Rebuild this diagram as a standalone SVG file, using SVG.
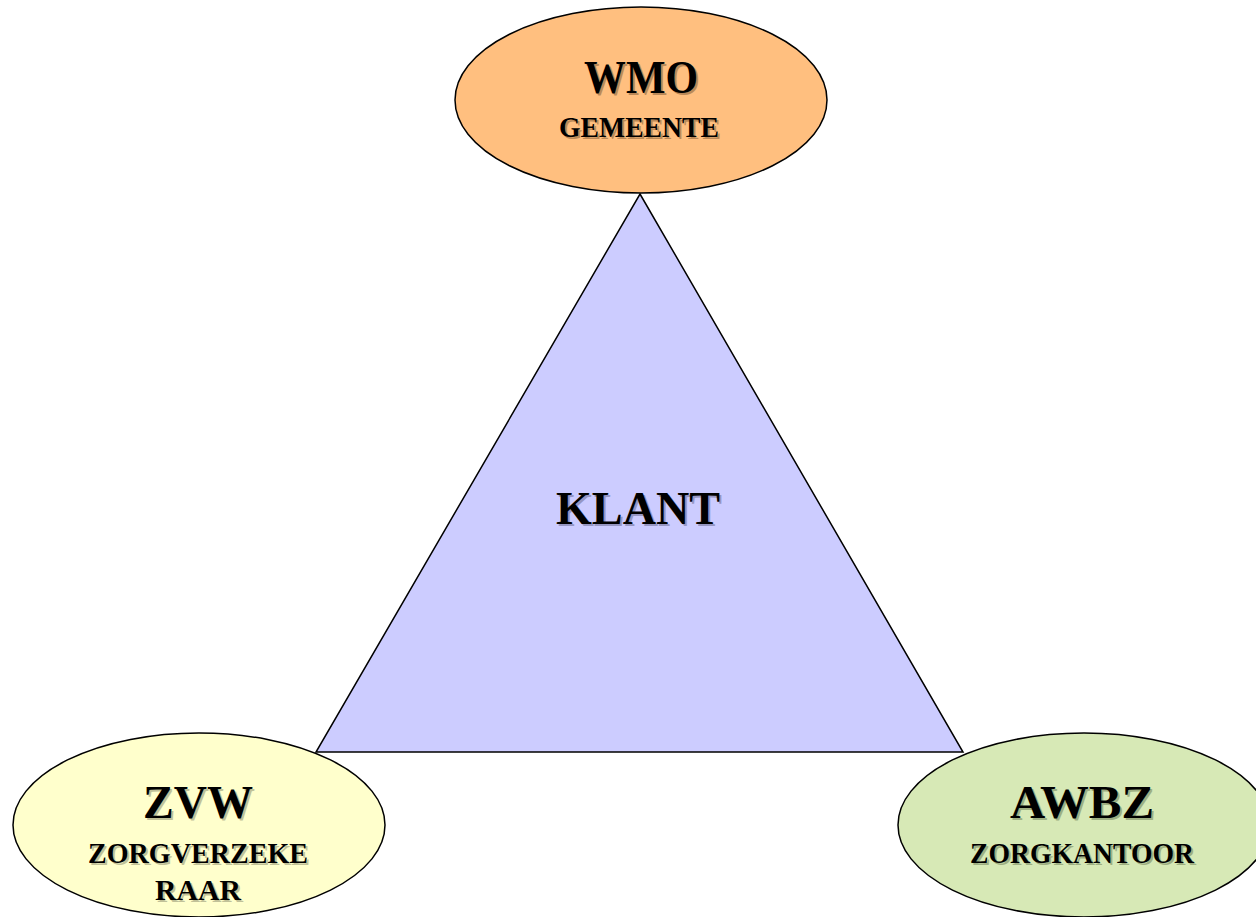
<svg xmlns="http://www.w3.org/2000/svg" width="1256" height="917" viewBox="0 0 1256 917">
<style>
.shape{stroke:#000;stroke-width:1.5}
.t{font-family:"Liberation Serif","DejaVu Serif",serif;font-weight:bold;text-anchor:middle;fill:#000}
.big{font-size:46px}
.small{font-size:29px}
.sh{opacity:0.45}
</style>
<rect width="1256" height="917" fill="#fff"/>
<g id="connectors"></g>
<g id="klant">
<polygon class="shape" points="640,194 963,752 316,752" fill="#CCCCFF"/>
<text class="t big sh" x="640" y="526" fill="#555577" style="fill:#55557a" textLength="164" lengthAdjust="spacingAndGlyphs">KLANT</text>
<text class="t big" x="638" y="524" textLength="164" lengthAdjust="spacingAndGlyphs">KLANT</text>
</g>
<g id="wmo">
<ellipse class="shape" cx="641" cy="100" rx="186" ry="93" fill="#FFBF7F"/>
<text class="t big sh" x="643" y="95" style="fill:#6b4a2a" textLength="114" lengthAdjust="spacingAndGlyphs">WMO</text>
<text class="t big" x="641" y="93" textLength="114" lengthAdjust="spacingAndGlyphs">WMO</text>
<text class="t small sh" x="641" y="139" style="fill:#6b4a2a" textLength="160" lengthAdjust="spacingAndGlyphs">GEMEENTE</text>
<text class="t small" x="639" y="137" textLength="160" lengthAdjust="spacingAndGlyphs">GEMEENTE</text>
</g>
<g id="zvw">
<ellipse class="shape" cx="199" cy="825" rx="186" ry="92" fill="#FFFFCC"/>
<text class="t big sh" x="200" y="820" style="fill:#77775a" textLength="110" lengthAdjust="spacingAndGlyphs">ZVW</text>
<text class="t big" x="198" y="818" textLength="110" lengthAdjust="spacingAndGlyphs">ZVW</text>
<text class="t small sh" x="200" y="865" style="fill:#77775a" textLength="220" lengthAdjust="spacingAndGlyphs">ZORGVERZEKE</text>
<text class="t small" x="198" y="863" textLength="220" lengthAdjust="spacingAndGlyphs">ZORGVERZEKE</text>
<text class="t small sh" x="200" y="902" style="fill:#77775a" textLength="86" lengthAdjust="spacingAndGlyphs">RAAR</text>
<text class="t small" x="198" y="900" textLength="86" lengthAdjust="spacingAndGlyphs">RAAR</text>
</g>
<g id="awbz">
<ellipse class="shape" cx="1084" cy="825" rx="186" ry="92" fill="#D7E9B6"/>
<text class="t big sh" x="1084" y="820" style="fill:#5a6a44" textLength="144" lengthAdjust="spacingAndGlyphs">AWBZ</text>
<text class="t big" x="1082" y="818" textLength="144" lengthAdjust="spacingAndGlyphs">AWBZ</text>
<text class="t small sh" x="1084" y="865" style="fill:#5a6a44" textLength="224" lengthAdjust="spacingAndGlyphs">ZORGKANTOOR</text>
<text class="t small" x="1082" y="863" textLength="224" lengthAdjust="spacingAndGlyphs">ZORGKANTOOR</text>
</g>
</svg>
